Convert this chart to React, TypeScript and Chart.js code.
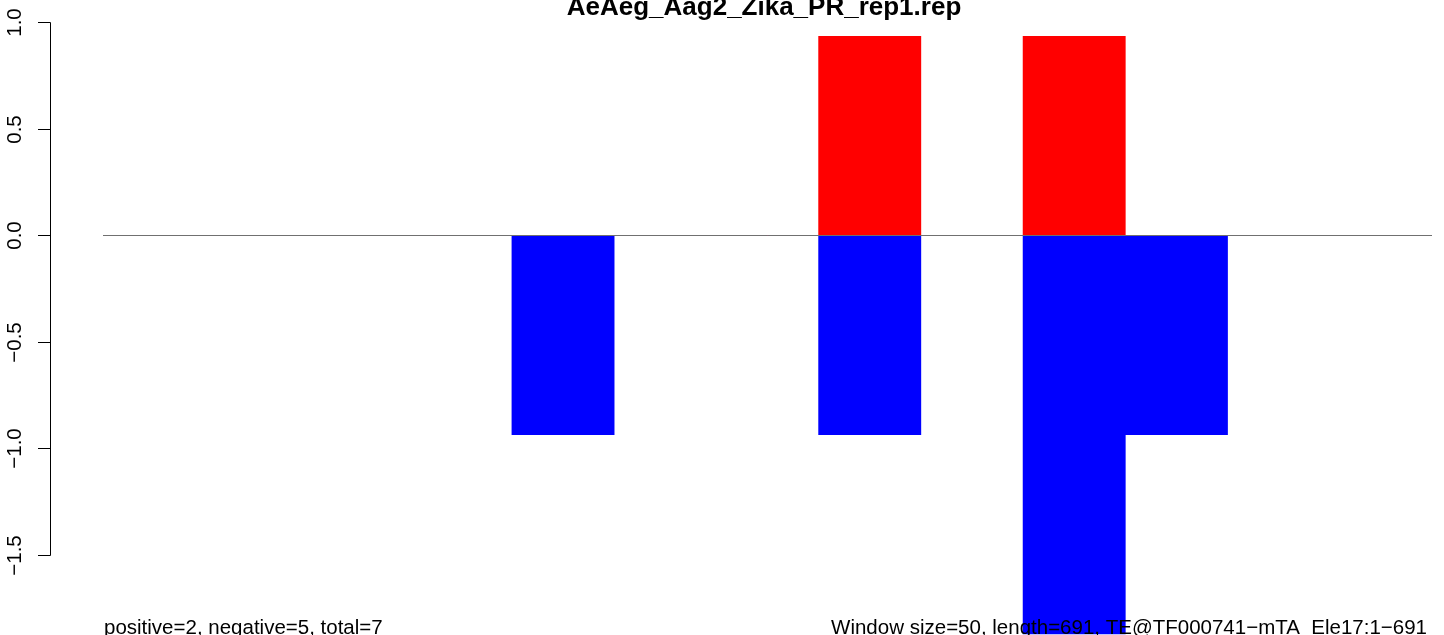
import React, { useEffect, useRef } from "react";
import { Chart, registerables } from "chart.js";

Chart.register(...registerables);

const bins = ["1", "2", "3", "4", "5", "6", "7", "8", "9", "10", "11", "12", "13"];
const positiveValues = [0, 0, 0, 0, 0, 0, 0, 0.935, 0, 0.935, 0, 0, 0];
const negativeValues = [0, 0, 0, 0, -0.935, 0, 0, -0.935, 0, -1.87, -0.935, 0, 0];
const yTicks = [1.0, 0.5, 0.0, -0.5, -1.0, -1.5];
const yTickLabels = ["1.0", "0.5", "0.0", "\u22120.5", "\u22121.0", "\u22121.5"];
const titleText = "AeAeg_Aag2_Zika_PR_rep1.rep";
const leftNote = "positive=2, negative=5, total=7";
const rightNote = "Window size=50, length=691, TE@TF000741\u2212mTA_Ele17:1\u2212691";

const FONT = '"Liberation Sans", Arial, Helvetica, sans-serif';

const decorPlugin = {
  id: "rDecor",
  afterDatasetsDraw(chart: any) {
    const ctx = chart.ctx;
    const y = chart.scales.y;
    const area = chart.chartArea;
    ctx.save();
    // zero line
    const y0 = Math.round(y.getPixelForValue(0)) + 0.5;
    ctx.strokeStyle = "#707070";
    ctx.lineWidth = 1;
    ctx.beginPath();
    ctx.moveTo(area.left, y0);
    ctx.lineTo(area.right, y0);
    ctx.stroke();

    // y axis (R style)
    const axX = 50.5;
    const top = Math.round(y.getPixelForValue(yTicks[0])) + 0.5;
    const bot = Math.round(y.getPixelForValue(yTicks[yTicks.length - 1])) + 0.5;
    ctx.strokeStyle = "#000";
    ctx.beginPath();
    ctx.moveTo(axX, top);
    ctx.lineTo(axX, bot);
    ctx.stroke();
    ctx.fillStyle = "#000";
    ctx.font = `20.5px ${FONT}`;
    yTicks.forEach((v, i) => {
      const py = Math.round(y.getPixelForValue(v)) + 0.5;
      ctx.beginPath();
      ctx.moveTo(axX - 12.5, py);
      ctx.lineTo(axX, py);
      ctx.stroke();
      ctx.save();
      ctx.translate(21, py);
      ctx.rotate(-Math.PI / 2);
      ctx.textAlign = "center";
      ctx.textBaseline = "alphabetic";
      ctx.fillText(yTickLabels[i], 0, 0);
      ctx.restore();
    });

    // title
    ctx.font = `bold 26px ${FONT}`;
    ctx.textAlign = "center";
    ctx.textBaseline = "alphabetic";
    ctx.fillText(titleText, 764, 15);

    // bottom notes
    ctx.font = `20.5px ${FONT}`;
    ctx.textAlign = "left";
    ctx.fillText(leftNote, 104, 634);
    ctx.textAlign = "right";
    ctx.fillText(rightNote, 1427, 634);
    ctx.restore();
  },
};

export default function App() {
  const ref = useRef<HTMLCanvasElement | null>(null);
  useEffect(() => {
    if (!ref.current) return;
    const chart = new Chart(ref.current, {
      type: "bar",
      data: {
        labels: bins,
        datasets: [
          {
            label: "positive",
            data: positiveValues,
            backgroundColor: "#FF0000",
            borderWidth: 0,
            barPercentage: 1,
            categoryPercentage: 1,
          },
          {
            label: "negative",
            data: negativeValues,
            backgroundColor: "#0000FF",
            borderWidth: 0,
            barPercentage: 1,
            categoryPercentage: 1,
          },
        ],
      },
      options: {
        responsive: false,
        animation: false,
        devicePixelRatio: 1,
        layout: { padding: { left: 103, right: 12, top: 0, bottom: 0 } },
        plugins: {
          legend: { display: false },
          title: { display: false },
          tooltip: { enabled: false },
        },
        scales: {
          x: { stacked: true, display: false, offset: true },
          y: { stacked: true, display: false, min: -1.8756, max: 1.1056 },
        },
      },
      plugins: [decorPlugin],
    });
    return () => chart.destroy();
  }, []);
  return (
    <canvas
      ref={ref}
      width={1444}
      height={635}
      style={{ position: "fixed", top: 0, left: 0, width: 1444, height: 635, display: "block" }}
    />
  );
}
